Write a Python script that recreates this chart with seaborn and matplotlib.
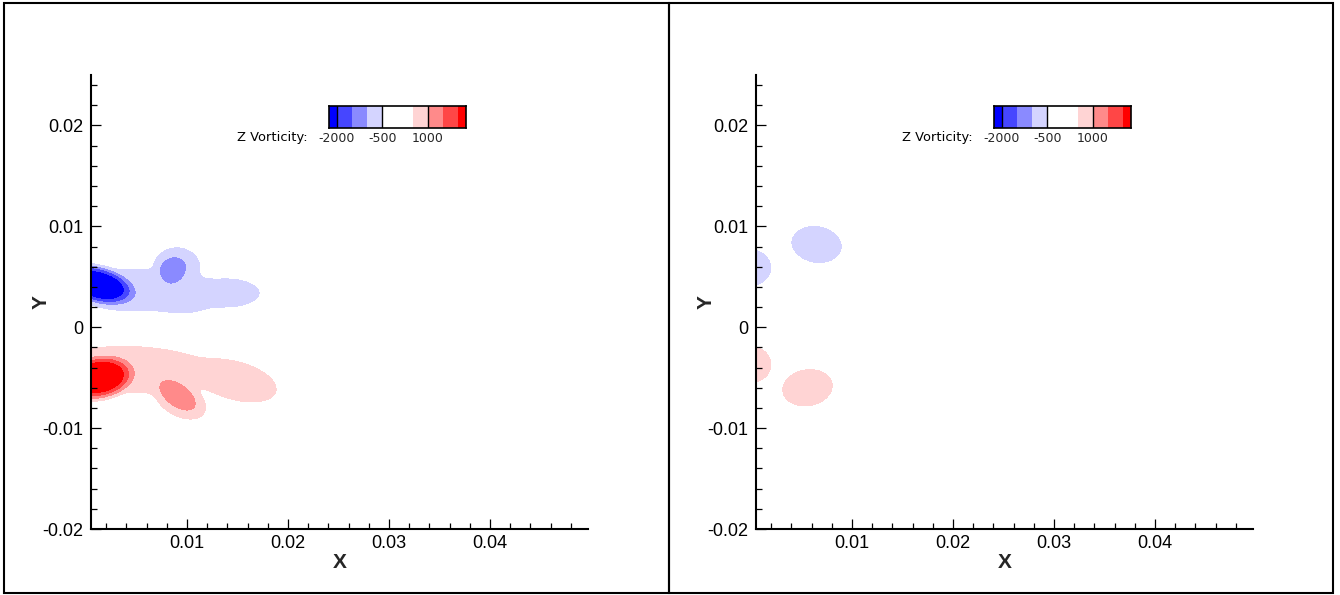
import numpy as np
import matplotlib
matplotlib.use("Agg")
import matplotlib.pyplot as plt
from matplotlib.colors import ListedColormap, BoundaryNorm
from matplotlib.patches import Rectangle
from matplotlib.ticker import MultipleLocator
import seaborn as sns

# ---------------- data ----------------
# contour levels (Z vorticity) and their fill colours
levels = [-2250, -2000, -1500, -1000, -500, 500, 1000, 1500, 2000, 2250]
level_colors = ['#0000ff', '#4646ff', '#8a8aff', '#d4d4ff', '#ffffff',
                '#ffd4d4', '#ff8a8a', '#ff4646', '#ff0000']
cbar_ticks = [-2000, -500, 1000]
cbar_ticklabels = ['-2000', '-500', '1000']

x_ticks = [0.01, 0.02, 0.03, 0.04]
x_ticklabels = ['0.01', '0.02', '0.03', '0.04']
y_ticks = [-0.02, -0.01, 0.0, 0.01, 0.02]
y_ticklabels = ['-0.02', '-0.01', '0', '0.01', '0.02']

# vorticity patches (left frame):
# blue: core, tongue, tongue middle, tongue tip, bump, bump blob
# red:  core, body, arm, hook, hook blob
left_cx    = [0.0012, 0.0045, 0.0095, 0.0140, 0.0090, 0.0086,
              0.0012, 0.0050, 0.0148, 0.0093, 0.0091]
left_cy    = [0.0042, 0.0037, 0.0033, 0.0034, 0.0060, 0.0058,
              -0.0050, -0.0042, -0.0053, -0.0071, -0.0068]
left_peak  = [-2600, -800, -800, -800, -800, -1300,
              2600, 800, 800, 800, 1300]
left_sx    = [0.0031, 0.0055, 0.0040, 0.0033, 0.0024, 0.0014,
              0.0029, 0.0080, 0.0042, 0.0028, 0.0020]
left_sy    = [0.00153, 0.0022, 0.0020, 0.0015, 0.0020, 0.00118,
              0.0017, 0.0023, 0.0019, 0.0017, 0.00106]
left_tilt  = [-15, 0, 0, 0, 0, 20,
              10, -3, -15, -30, -35]
left_sharp = [2, 2, 2, 2, 2, 2,
              2, 2, 2, 2, 2]

# vorticity patches (right frame)
right_cx    = [0.0000, 0.0065, 0.0000, 0.0056]
right_cy    = [0.0059, 0.0082, -0.0037, -0.0060]
right_peak  = [-800, -800, 800, 800]
right_sx    = [0.0021, 0.0026, 0.0020, 0.0025]
right_sy    = [0.0019, 0.0019, 0.0018, 0.0018]
right_tilt  = [0, -10, 0, 10]
right_sharp = [2, 2, 2, 2]

x_range = (0.0005, 0.0497)
y_range = (-0.02, 0.025)

# ---------------- style ----------------
sns.set_style("ticks")
plt.rcParams['font.family'] = ['Liberation Sans', 'DejaVu Sans']
plt.rcParams['text.color'] = 'black'

W, H = 1340, 595
fig = plt.figure(figsize=(W / 100, H / 100), dpi=100)
fig.patch.set_facecolor('white')


def px_box(l, t, r, b):
    return [l / W, 1 - b / H, (r - l) / W, (b - t) / H]


# panel frames
for (l, t, r, b) in [(4, 3, 669, 593), (669, 3, 1333, 593)]:
    fig.patches.append(Rectangle((l / W, 1 - b / H), (r - l) / W, (b - t) / H,
                                 transform=fig.transFigure, fill=False,
                                 ec='black', lw=1.5, zorder=10))

xg = np.linspace(0.0, 0.05, 800)
yg = np.linspace(-0.02, 0.025, 720)
XX, YY = np.meshgrid(xg, yg)
BLEND = 3.0


def build_field(cx, cy, peak, sx, sy, tilt, sharp):
    neg = np.zeros_like(XX)
    pos = np.zeros_like(XX)
    for x0, y0, A, a, b, ang, p in zip(cx, cy, peak, sx, sy, tilt, sharp):
        t = np.deg2rad(ang)
        dx = XX - x0
        dy = YY - y0
        u = dx * np.cos(t) + dy * np.sin(t)
        v = -dx * np.sin(t) + dy * np.cos(t)
        q = (u / a) ** 2 + (v / b) ** 2
        mag = abs(A) * np.exp(-0.5 * q ** p)
        if A < 0:
            neg += mag ** BLEND
        else:
            pos += mag ** BLEND
    return pos ** (1 / BLEND) - neg ** (1 / BLEND)


fields = [
    build_field(left_cx, left_cy, left_peak, left_sx, left_sy, left_tilt, left_sharp),
    build_field(right_cx, right_cy, right_peak, right_sx, right_sy, right_tilt, right_sharp),
]

fill_levels = [-1e9] + levels[1:-1] + [1e9]
cmap = ListedColormap(level_colors)
norm = BoundaryNorm(levels, cmap.N)
cb_values = np.array([np.arange(levels[0] + 125, levels[-1], 250)])
cb_tick_pos = [(v - levels[0]) / 250 for v in cbar_ticks]

ax_boxes = [px_box(91, 75, 588, 529), px_box(756, 75, 1253, 529)]

for box, Z in zip(ax_boxes, fields):
    ax = fig.add_axes(box)
    ax.set_facecolor('white')
    ax.set_axisbelow(False)
    ax.contourf(XX, YY, Z, levels=fill_levels, colors=level_colors, zorder=0.5)
    ax.set_xlim(*x_range)
    ax.set_ylim(*y_range)
    sns.despine(ax=ax)
    for s in ['left', 'bottom']:
        ax.spines[s].set_linewidth(1.5)
        ax.spines[s].set_color('black')
        ax.spines[s].set_zorder(5)
    ax.set_xticks(x_ticks)
    ax.set_xticklabels(x_ticklabels)
    ax.set_yticks(y_ticks)
    ax.set_yticklabels(y_ticklabels)
    ax.xaxis.set_minor_locator(MultipleLocator(0.002))
    ax.yaxis.set_minor_locator(MultipleLocator(0.002))
    ax.tick_params(which='major', direction='in', length=7.5, width=0.9,
                   color='black', labelsize=13, labelcolor='black')
    ax.tick_params(which='minor', direction='in', length=4.3, width=0.9, color='black')
    ax.tick_params(axis='x', which='major', pad=4.3)
    ax.tick_params(axis='y', which='major', pad=5.8)
    ax.tick_params(top=False, right=False, which='both')
    ax.xaxis.set_zorder(4)
    ax.yaxis.set_zorder(4)

    ax.set_xlabel('X', fontsize=15, fontweight='bold')
    ax.set_ylabel('Y', fontsize=15, fontweight='bold')
    ax.xaxis.set_label_coords(0.5, -(562 - 529) / 454)
    ax.xaxis.label.set_va('center')
    ax.yaxis.set_label_coords(-(91 - 41) / 497, 0.5)
    ax.yaxis.label.set_va('center')

    # colour legend
    cax = ax.inset_axes([(329 - 91) / 497, (529 - 128) / 454,
                         (466 - 329) / 497, (128 - 106) / 454])
    sns.heatmap(cb_values, ax=cax, cmap=cmap, norm=norm, cbar=False,
                xticklabels=False, yticklabels=False, linewidths=0)
    for sp in cax.spines.values():
        sp.set_visible(True)
        sp.set_linewidth(1.2)
        sp.set_color('black')
    for p in cb_tick_pos:
        cax.axvline(p, color='black', lw=1.0)
    cax.set_xticks(cb_tick_pos)
    cax.set_xticklabels(cbar_ticklabels, family='DejaVu Sans', fontsize=9)
    cax.tick_params(axis='x', length=0, pad=3, bottom=True, labelbottom=True)
    cax.set_yticks([])
    cax.text(-(329 - 308) / 137, -3 / 22 - 0.01, 'Z Vorticity:', transform=cax.transAxes,
             ha='right', va='top', family='DejaVu Sans', fontsize=9.4)

fig.savefig('out.png', dpi=100, facecolor='white')
